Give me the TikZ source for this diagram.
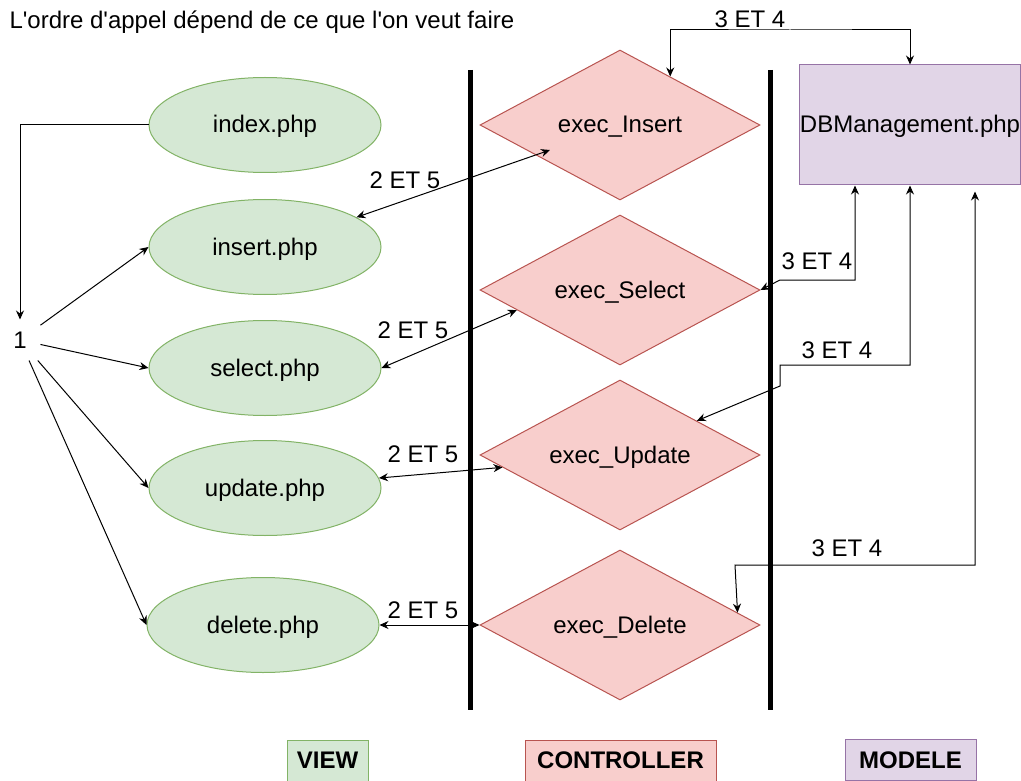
\documentclass[tikz,border=0pt]{standalone}
\usepackage{fontspec}
\setmainfont{Liberation Sans}
\usetikzlibrary{arrows.meta,shapes.geometric}
\definecolor{viewfill}{HTML}{D5E8D4}
\definecolor{viewline}{HTML}{82B366}
\definecolor{ctrlfill}{HTML}{F8CECC}
\definecolor{ctrlline}{HTML}{B85450}
\definecolor{modfill}{HTML}{E1D5E7}
\definecolor{modline}{HTML}{9673A6}
\begin{document}
\begin{tikzpicture}[x=1pt,y=-1pt,line width=1pt,
                    font=\fontsize{24}{28}\selectfont,
                    arrow/.style = {-{Stealth[length=9pt,width=8pt]}},
                    both/.style = {{Stealth[length=9pt,width=8pt]}-{Stealth[length=9pt,width=8pt]}},
                    page/.style = {ellipse,draw=viewline,fill=viewfill,minimum width=232,minimum height=95,inner sep=0,text height=19pt,text depth=3pt},
                    ctrl/.style = {diamond,aspect=1.87,draw=ctrlline,fill=ctrlfill,minimum width=280,minimum height=150,inner sep=0,text height=19pt,text depth=3pt},
                    legend/.style = {minimum height=41,inner sep=0,font=\fontsize{24}{28}\selectfont\bfseries}]
                    \useasboundingbox (0,0) rectangle (1021,781);

                    \node [anchor=base west,inner sep=0] (title) at (9,29) {L\textquotesingle ordre d\textquotesingle appel dépend de ce que l\textquotesingle on veut faire};

                    \node [page] (index) at (265,125) {index.php};
                    \node [page] (insert) at (265,247) {insert.php};
                    \node [page] (select) at (265,368) {select.php};
                    \node [page] (update) at (265,488) {update.php};
                    \node [page] (delete) at (263,625) {delete.php};

                    \node [ctrl] (xins) at (620,125) {exec\_Insert};
                    \node [ctrl] (xsel) at (620,290) {exec\_Select};
                    \node [ctrl] (xupd) at (620,455) {exec\_Update};
                    \node [ctrl] (xdel) at (620,625) {exec\_Delete};

                    \node [draw=modline,fill=modfill,minimum width=220,minimum height=120,inner sep=0,text height=19pt,text depth=3pt] (db) at (910,125) {DBManagement.php};

                    \draw [line width=5pt] (470,70) -- (470,710);
                    \draw [line width=5pt] (770,70) -- (770,710);

                    \node [minimum size=40,inner sep=0] (one) at (20,340) {1};

                    \draw[arrow] (index.west) -| (one.north);
                    \draw[arrow] (one) -- (insert.west);
                    \draw[arrow] (one) -- (select.west);
                    \draw[arrow] (one) -- (update.west);
                    \draw[arrow] (one) -- (delete.west);

                    \draw[both] (insert.18) -- ([shift={(-70,25)}]xins.center);
                    \draw[both] (select.east) -- (xsel.191);
                    \draw[both] (update.5.5) -- (xupd.186);
                    \draw[both] (delete.east) -- (xdel.west);

                    \node (l1) at (405,180) {2 ET 5};
                    \node (l2) at (413,330) {2 ET 5};
                    \node (l3) at (423,454) {2 ET 5};
                    \node (l4) at (423,610) {2 ET 5};

                    \coordinate (topbend) at (790,30);
                    \coordinate (selbend) at (780,280);
                    \coordinate (updbend) at (780,386);
                    \coordinate (updtop) at (910,365);
                    \coordinate (delbend) at (735,565);
                    \draw[both] (xins.44) |- (topbend) -| (db.north);
                    \draw[both] (xsel.east) -- (selbend) -| ([xshift=-55pt]db.south);
                    \draw[both] (xupd.24) -- (updbend) |- (updtop) -- (db.south);
                    \draw[both] ([xshift=65pt,yshift=-6pt]db.south) |- (delbend) -- (xdel.6.5);

                    \node (m1) at (750,19) {3 ET 4};
                    \node (m2) at (817,261) {3 ET 4};
                    \node (m3) at (837,350) {3 ET 4};
                    \node (m4) at (847,548) {3 ET 4};

                    \node [legend,draw=viewline,fill=viewfill,minimum width=81] (vleg) at (327.5,760.5) {VIEW};
                    \node [legend,draw=ctrlline,fill=ctrlfill,minimum width=191] (cleg) at (620.5,760.5) {CONTROLLER};
                    \node [legend,draw=modline,fill=modfill,minimum width=131] (mleg) at (910.5,760) {MODELE};
                \end{tikzpicture}
\end{document}
